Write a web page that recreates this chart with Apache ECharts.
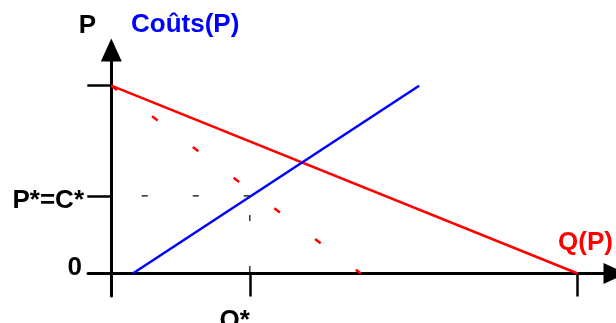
<!DOCTYPE html>
<html>
<head>
<meta charset="utf-8">
<title>Monopole</title>
<script src="https://cdn.jsdelivr.net/npm/echarts@6.0.0/dist/echarts.min.js"></script>
<style>
  html, body { margin: 0; padding: 0; background: #fff; }
  #chart { width: 616px; height: 323px; }
</style>
</head>
<body>
<div id="chart"></div>
<script>
// courbes, points en (Q, P)
var demande = [[0, 100], [100, 0]];            // Q(P)
var recetteMarginale = [[0, 100], [53.5, 0]];  // pointillés rouges
var couts = [[4.6, 0], [66, 100]];             // Coûts(P)
var qStar = 29.7;
var pStar = 41.3;
var xTicks = [qStar, 100];
var yTicks = [pStar, 100];
var yLabelValues = [0, pStar];
var yLabelTexts = ['0', 'P*=C*'];

var font = 'Liberation Sans';

var myChart = echarts.init(document.getElementById('chart'));
option = {
  animation: false,
  // pas de recalage auto de la grille (echarts 6)
  grid: { left: 88, right: 1, top: 50, bottom: 27, containLabel: false, outerBoundsMode: 'none' },
  xAxis: {
    type: 'value',
    min: -5,
    max: 108,
    splitLine: { show: false },
    axisLine: {
      onZero: true,
      symbol: ['none', 'triangle'],
      symbolSize: [21, 23],
      lineStyle: { color: '#000', width: 3 }
    },
    axisTick: {
      customValues: xTicks,
      length: 23,
      lineStyle: { color: '#000', width: 2.5 }
    },
    axisLabel: {
      customValues: [qStar],
      formatter: function () { return 'Q*'; },
      color: '#000',
      fontFamily: font,
      fontWeight: 'bold',
      fontSize: 26,
      align: 'right',
      margin: 12
    }
  },
  yAxis: {
    type: 'value',
    min: -12,
    max: 119,
    splitLine: { show: false },
    axisLine: {
      onZero: true,
      symbol: ['none', 'triangle'],
      symbolSize: [21, 23],
      lineStyle: { color: '#000', width: 3 }
    },
    axisTick: {
      customValues: yTicks,
      length: 24,
      lineStyle: { color: '#000', width: 2.5 }
    },
    axisLabel: {
      customValues: yLabelValues,
      formatter: function (v) {
        var i = yLabelValues.indexOf(v);
        return i === 0 ? '{z|' + yLabelTexts[0] + '}' : '{s|' + yLabelTexts[1] + '}';
      },
      color: '#000',
      fontFamily: font,
      fontWeight: 'bold',
      fontSize: 26,
      margin: 2,
      rich: {
        z: { fontFamily: font, fontWeight: 'bold', fontSize: 26, color: '#000', padding: [0, 4, 12, 0] },
        s: { fontFamily: font, fontWeight: 'bold', fontSize: 26, color: '#000', padding: [10, 2, 0, 0] }
      }
    }
  },
  graphic: [
    { type: 'text', x: 87.5, y: 25.5, style: { text: 'P', fill: '#000', font: 'bold 26px ' + font, align: 'center', verticalAlign: 'middle' } },
    { type: 'text', x: 131, y: 24.5, style: { text: 'Coûts(P)', fill: '#0000ff', font: 'bold 26px ' + font, align: 'left', verticalAlign: 'middle' } },
    { type: 'text', x: 558, y: 242.5, style: { text: 'Q(P)', fill: '#ff0000', font: 'bold 26px ' + font, align: 'left', verticalAlign: 'middle' } }
  ],
  series: [
    {
      name: 'Q(P)',
      type: 'line',
      data: demande,
      showSymbol: false,
      clip: false,
      lineStyle: { color: '#ff0000', width: 2.5 }
    },
    {
      name: 'Rm',
      type: 'line',
      data: recetteMarginale,
      showSymbol: false,
      clip: false,
      lineStyle: { color: '#ff0000', width: 2.5, type: [7, 44], dashOffset: 0 }
    },
    {
      name: 'Coûts(P)',
      type: 'line',
      data: couts,
      showSymbol: false,
      clip: false,
      lineStyle: { color: '#0000ff', width: 2.5 }
    },
    {
      name: 'P*',
      type: 'line',
      data: [[0, pStar], [qStar, pStar]],
      showSymbol: false,
      clip: false,
      lineStyle: { color: '#000', width: 1.2, type: [6, 45], dashOffset: 20.6 }
    },
    {
      name: 'Q*',
      type: 'line',
      data: [[qStar, pStar], [qStar, 0]],
      showSymbol: false,
      clip: false,
      lineStyle: { color: '#000', width: 1.2, type: [6, 45], dashOffset: 32 }
    }
  ]
};

myChart.setOption(option);
</script>
</body>
</html>
